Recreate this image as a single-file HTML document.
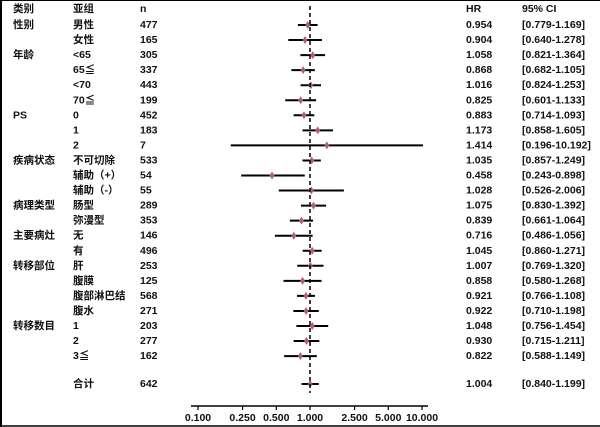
<!DOCTYPE html>
<html><head><meta charset="utf-8"><style>
body{margin:0;background:#fff;}
svg{display:block;font-family:"Liberation Sans","Noto Sans CJK SC",sans-serif;}
text{font-size:10.5px;fill:#111;font-weight:bold;}
</style></head><body>
<svg id="c" width="600" height="427" viewBox="0 0 600 427">
<line x1="0" y1="0.5" x2="600" y2="0.5" stroke="#000" stroke-width="1"/>
<line x1="1" y1="0" x2="1" y2="427" stroke="#000" stroke-width="2"/>
<line x1="0" y1="426" x2="600" y2="426" stroke="#000" stroke-width="1.5"/>
<g>
<text x="13" y="12">类别</text><text x="73" y="12">亚组</text><text x="140" y="12">n</text>
<text x="466" y="12">HR</text><text x="522" y="12">95% CI</text>
</g>
<g id="rows"></g>
<g id="axis"></g>
</svg>
<script>
const categories=["性别","","年龄","","","","PS","","","疾病状态","","","病理类型","","主要病灶","","转移部位","","","","转移数目","","",""];
const subgroups=["男性","女性","<65","65≦","<70","70≦","0","1","2","不可切除","辅助（+）","辅助（-）","肠型","弥漫型","无","有","肝","腹膜","腹部淋巴结","腹水","1","2","3≦","合计"];
const nValues=[477,165,305,337,443,199,452,183,7,533,54,55,289,353,146,496,253,125,568,271,203,277,162,642];
const hr=[0.954,0.904,1.058,0.868,1.016,0.825,0.883,1.173,1.414,1.035,0.458,1.028,1.075,0.839,0.716,1.045,1.007,0.858,0.921,0.922,1.048,0.930,0.822,1.004];
const ciLow=[0.779,0.640,0.821,0.682,0.824,0.601,0.714,0.858,0.196,0.857,0.243,0.526,0.830,0.661,0.486,0.860,0.769,0.580,0.766,0.710,0.756,0.715,0.588,0.840];
const ciHigh=[1.169,1.278,1.364,1.105,1.253,1.133,1.093,1.605,10.192,1.249,0.898,2.006,1.392,1.064,1.056,1.271,1.320,1.268,1.108,1.198,1.454,1.211,1.149,1.199];
const tickValues=[0.1,0.25,0.5,1,2.5,5,10];
const tickLabels=["0.100","0.250","0.500","1.000","2.500","5.000","10.000"];

const NS="http://www.w3.org/2000/svg";
const xs=v=>310+112*Math.log10(v);
const ys=i=>i<23?24+i*15.05:383;
function mk(tag,attrs,parent,txt){const e=document.createElementNS(NS,tag);for(const k in attrs)e.setAttribute(k,attrs[k]);if(txt!==undefined)e.textContent=txt;parent.appendChild(e);return e;}
const rows=document.getElementById('rows');
const ax=document.getElementById('axis');
const ref=mk('line',{x1:xs(1),x2:xs(1),y1:6,y2:393,stroke:'#000','stroke-width':1.5,'stroke-dasharray':'4,3'},ax);


subgroups.forEach((s,i)=>{
  const y=ys(i);
  const g=mk('g',{},rows);
  
  
  if(categories[i]){const t=mk('text',{x:13,y:y+4},g,categories[i]);
    
    }
  const a=mk('text',{x:73,y:y+4},g,s);
  
  
  const n=mk('text',{x:140,y:y+4},g,nValues[i]);
  
  
  const h=mk('text',{x:466,y:y+4},g,hr[i].toFixed(3));
  
  
  const c=mk('text',{x:522,y:y+4},g,'['+ciLow[i].toFixed(3)+'-'+ciHigh[i].toFixed(3)+']');
  
  
  const l=mk('line',{x1:xs(ciLow[i]),x2:xs(ciHigh[i]),y1:y+1,y2:y+1,stroke:'#000','stroke-width':2},g);
  
  
  const p=mk('path',{d:`M${xs(hr[i])-2.5} ${y+1}L${xs(hr[i])} ${y-3}L${xs(hr[i])+2.5} ${y+1}L${xs(hr[i])} ${y+5}Z`,fill:'#b06070'},g);
  
  
});
const axl=mk('line',{x1:191,x2:428,y1:406,y2:406,stroke:'#000','stroke-width':1.5},ax);


tickValues.forEach((v,i)=>{
  const tk=mk('line',{x1:xs(v),x2:xs(v),y1:406,y2:410,stroke:'#000','stroke-width':1.2},ax);
  
  
  const t=mk('text',{x:xs(v),y:421,'text-anchor':'middle','font-size':'9.5'},ax,tickLabels[i]);
  
  
});
</script>
</body></html>
